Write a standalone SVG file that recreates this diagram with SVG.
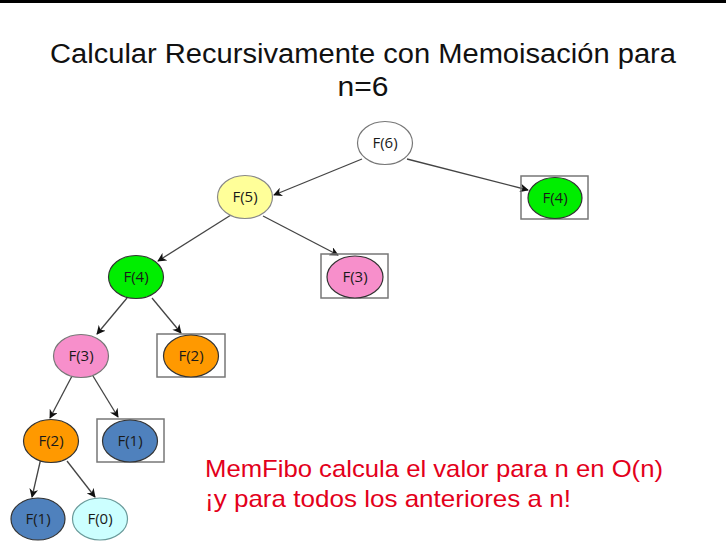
<svg xmlns="http://www.w3.org/2000/svg" width="726" height="547" viewBox="0 0 726 547">
<style>
.t{font-family:"Liberation Sans",Arial,sans-serif;fill:#111}
.lbl{font-family:"Open Sans","Liberation Sans",sans-serif;font-size:15px;fill:#1a1a1a;text-anchor:middle}
.e{stroke:#333;stroke-width:1.2}
.box{fill:none;stroke:#777;stroke-width:1.5}
.c{stroke:#444;stroke-width:1.3;fill:none;marker-end:url(#ah)}
.red{font-family:"Liberation Sans",Arial,sans-serif;font-size:24px;fill:#e3001b}
</style>
<defs>
<marker id="ah" viewBox="0 0 10 10" refX="9" refY="5" markerWidth="9" markerHeight="9" markerUnits="userSpaceOnUse" orient="auto">
<path d="M0,0 L10,5 L0,10 L3,5 z" fill="#111"/>
</marker>
</defs>
<rect x="0" y="0" width="726" height="547" fill="#fff"/>
<rect x="0" y="0" width="726" height="3" fill="#000"/>
<text class="t" x="363" y="63" font-size="27" text-anchor="middle" textLength="626" lengthAdjust="spacingAndGlyphs">Calcular Recursivamente con Memoisación para</text>
<text class="t" x="363" y="96" font-size="27" text-anchor="middle" textLength="51" lengthAdjust="spacingAndGlyphs">n=6</text>
<g id="connectors">
<line class="c" x1="362" y1="159" x2="274" y2="195"/>
<line class="c" x1="407" y1="159" x2="528" y2="190"/>
<line class="c" x1="231" y1="215" x2="158" y2="261"/>
<line class="c" x1="263" y1="216" x2="338" y2="255"/>
<line class="c" x1="127" y1="298" x2="97" y2="334"/>
<line class="c" x1="152" y1="298" x2="181" y2="333"/>
<line class="c" x1="72" y1="376" x2="50" y2="418"/>
<line class="c" x1="93" y1="376" x2="118" y2="417"/>
<line class="c" x1="41" y1="458" x2="32" y2="497"/>
<line class="c" x1="67" y1="461" x2="95" y2="497"/>
</g>
<g id="n_f6"><ellipse cx="385" cy="143" rx="27.5" ry="21.5" fill="#fff" stroke="#777" stroke-width="1.2"/><text class="lbl" x="385" y="148">F(6)</text></g>
<g id="n_f5"><ellipse cx="245" cy="197" rx="27.5" ry="21.5" fill="#ffff99" stroke="#888" stroke-width="1.2"/><text class="lbl" x="245" y="202">F(5)</text></g>
<g id="n_f4r"><rect class="box" x="521" y="176" width="67" height="43"/><ellipse class="e" cx="555" cy="198" rx="27" ry="20.5" fill="#00ee00"/><text class="lbl" x="555" y="203">F(4)</text></g>
<g id="n_f4l"><ellipse class="e" cx="136" cy="277" rx="27.5" ry="21.5" fill="#00ee00"/><text class="lbl" x="136" y="282">F(4)</text></g>
<g id="n_f3r"><rect class="box" x="321" y="254" width="67" height="44"/><ellipse class="e" cx="355" cy="277" rx="28" ry="21" fill="#f78fcb"/><text class="lbl" x="355" y="282">F(3)</text></g>
<g id="n_f3l"><ellipse cx="81" cy="356" rx="27.5" ry="21.5" fill="#f78fcb" stroke="#777" stroke-width="1.2"/><text class="lbl" x="81" y="361">F(3)</text></g>
<g id="n_f2m"><rect class="box" x="157" y="334" width="68" height="43"/><ellipse class="e" cx="191" cy="356" rx="27.5" ry="21" fill="#ff9900"/><text class="lbl" x="191" y="361">F(2)</text></g>
<g id="n_f2l"><ellipse class="e" cx="51" cy="441" rx="27.5" ry="21.5" fill="#ff9900"/><text class="lbl" x="51" y="446">F(2)</text></g>
<g id="n_f1b"><rect class="box" x="97" y="419" width="67" height="43"/><ellipse class="e" cx="130" cy="441" rx="27.5" ry="21" fill="#4f81bd"/><text class="lbl" x="130" y="446">F(1)</text></g>
<g id="n_f1"><ellipse class="e" cx="38" cy="519" rx="27" ry="21" fill="#4f81bd"/><text class="lbl" x="38" y="524">F(1)</text></g>
<g id="n_f0"><ellipse cx="100" cy="519" rx="27.5" ry="21" fill="#ccffff" stroke="#6a9a9a" stroke-width="1.2"/><text class="lbl" x="100" y="524">F(0)</text></g>
<text class="red" x="205" y="477" textLength="458" lengthAdjust="spacingAndGlyphs">MemFibo calcula el valor para n en O(n)</text>
<text class="red" x="205" y="507" textLength="366" lengthAdjust="spacingAndGlyphs">¡y para todos los anteriores a n!</text>
</svg>
